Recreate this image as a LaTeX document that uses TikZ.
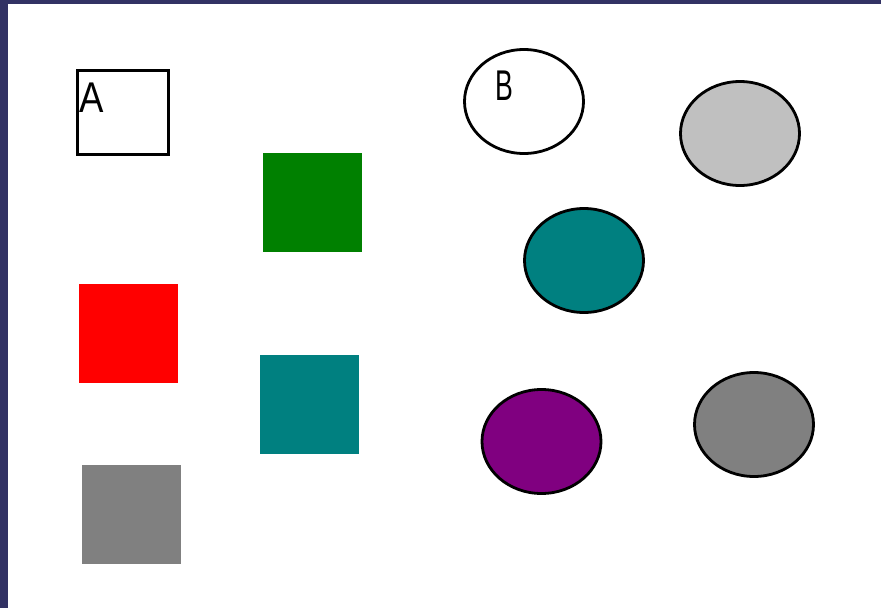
\documentclass[tikz,border=0pt]{standalone}
\usepackage{fontspec}
\setmainfont{Liberation Sans}
\usetikzlibrary{shapes.geometric}
\definecolor{frame}{RGB}{50,50,100}
\definecolor{grn}{RGB}{0,128,0}
\definecolor{tealc}{RGB}{0,128,128}
\definecolor{grayc}{RGB}{128,128,128}
\definecolor{silverc}{RGB}{192,192,192}
\definecolor{purp}{RGB}{128,0,128}
\tikzset{
  sq/.style={draw=none, minimum width=99pt, minimum height=99pt, inner sep=0pt, outer sep=0pt},
  ell/.style={ellipse, draw=black, line width=2.8pt, minimum width=119pt, minimum height=104pt, inner sep=0pt},
  lbl/.style={font=\fontsize{43}{43}\selectfont, inner sep=0pt, anchor=north west}
}
\begin{document}
\begin{tikzpicture}[x=1pt,y=-1pt]
\useasboundingbox (0,0) rectangle (881,608);
\fill[white] (0,0) rectangle (881,608);
\fill[frame] (0,0) rectangle (8,608);
\fill[frame] (0,0) rectangle (881,3.5);
% squares
\node[draw=black, line width=3pt, minimum width=91pt, minimum height=84pt, inner sep=0pt] (boxA) at (123,112) {};
\node[lbl, xscale=0.85] (labA) at (79,83) {A};
\node[sq, fill=grn] (green) at (312.5,202) {};
\node[sq, fill=red] (red) at (128.5,333.5) {};
\node[sq, fill=tealc] (tealsq) at (309,404.5) {};
\node[sq, fill=grayc] (graysq) at (131.5,514.5) {};
% ellipses
\node[ell, fill=white] (ellB) at (524,101.5) {};
\node[lbl, xscale=0.62] (labB) at (495,71) {B};
\node[ell, fill=silverc] (silver) at (740,133.5) {};
\node[ell, fill=tealc] (tealel) at (584,260.5) {};
\node[ell, fill=purp] (purple) at (541.5,441.5) {};
\node[ell, fill=grayc] (grayel) at (754,424.5) {};
\end{tikzpicture}
\end{document}
